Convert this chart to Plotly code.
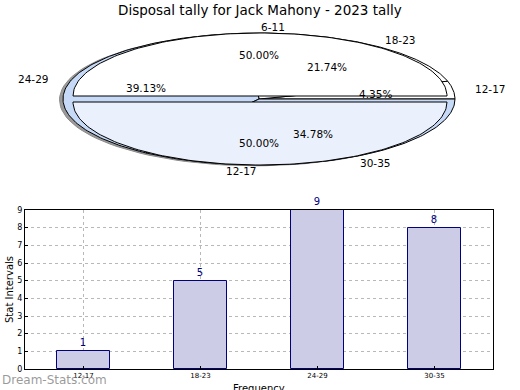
import math
import plotly.graph_objects as go

# ---- data ----
categories = ["12-17", "18-23", "24-29", "30-35"]
counts = [1, 5, 9, 8]
pie2_labels = ["6-11", "12-17"]
pie2_values = [1, 1]
pie1_colors = ["#ffffff", "#ffffff", "#c6d9f7", "#c6d9f7"]
pie2_colors = ["#ffffff", "#ebf1fc"]
title = "Disposal tally for Jack Mahony - 2023 tally"

W, H = 520, 390
fig = go.Figure()

FONT = "DejaVu Sans"


def wedge(cx, cy, a, b, t0, t1, n=120):
    xs, ys = [cx], [cy]
    for i in range(n + 1):
        t = math.radians(t0 + (t1 - t0) * i / n)
        xs.append(cx + a * math.cos(t))
        ys.append(cy - b * math.sin(t))
    xs.append(cx)
    ys.append(cy)
    return xs, ys


def add_poly(xs, ys, fill, line="black", width=1):
    fig.add_trace(go.Scatter(x=xs, y=ys, mode="lines", fill="toself",
                             fillcolor=fill, line=dict(color=line, width=width),
                             xaxis="x2", yaxis="y2", hoverinfo="skip",
                             showlegend=False))


def note(x, y, text, size=10.5, color="black", xanchor="center",
         yanchor="middle", angle=0):
    return dict(x=x, y=y, xref="x2", yref="y2", text=text, showarrow=False,
                xanchor=xanchor, yanchor=yanchor, textangle=angle,
                font=dict(family=FONT, size=size, color=color))


annotations = []

# shadow
sx, sy = wedge(255.5, 99.8, 196, 66, 0, 360)
add_poly(sx, sy, "#9a9a9a", line="#8a8a8a", width=1)

# pie 1 (four intervals)
cx1, cy1, a1, b1 = 259, 99, 196, 66
total1 = sum(counts)
start = 0.0
for lab, v, col in zip(categories, counts, pie1_colors):
    span = 360.0 * v / total1
    xs, ys = wedge(cx1, cy1, a1, b1, start, start + span)
    add_poly(xs, ys, col)
    mid = math.radians(start + span / 2)
    annotations.append(note(cx1 + 1.1 * a1 * math.cos(mid),
                            cy1 - 1.1 * b1 * math.sin(mid), lab,
                            xanchor="left" if math.cos(mid) > 0 else "right"))
    annotations.append(note(cx1 + 0.6 * a1 * math.cos(mid),
                            cy1 - 0.6 * b1 * math.sin(mid),
                            "%.2f%%" % (100.0 * v / total1)))
    start += span

# pie 2 (two halves, slightly separated)
cx2, a2, b2 = 260, 187, 63
total2 = sum(pie2_values)
start = 0.0
for i, (lab, v, col) in enumerate(zip(pie2_labels, pie2_values, pie2_colors)):
    span = 360.0 * v / total2
    cy2 = 96 if i == 0 else 102
    xs, ys = wedge(cx2, cy2, a2, b2, start, start + span)
    add_poly(xs, ys, col)
    mid = math.radians(start + span / 2)
    annotations.append(note(259 + 1.1 * a2 * math.cos(mid),
                            cy2 - 1.1 * b2 * math.sin(mid), lab,
                            xanchor="left" if i == 0 else "right"))
    annotations.append(note(259 + 0.6 * a2 * math.cos(mid),
                            cy2 - 0.6 * b2 * math.sin(mid) + (-3 if i == 0 else 3),
                            "%.2f%%" % (100.0 * v / total2)))
    start += span

# bar chart
fig.add_trace(go.Bar(x=categories, y=counts, width=0.45,
                     marker=dict(color="#ccccE6", line=dict(color="#000080", width=1)),
                     text=[str(c) for c in counts], textposition="outside",
                     textfont=dict(family=FONT, size=10, color="#000080"),
                     cliponaxis=False, xaxis="x", yaxis="y", showlegend=False))

# title, axis titles, watermark (positioned on the full-figure overlay axes)
annotations.append(note(260, 10, title, size=13.5))
annotations.append(note(9, 290, "Stat Intervals", size=10, angle=-90))
annotations.append(note(259, 388, "Frequency", size=10))
annotations.append(note(0, 380, "Dream-Stats.com", size=12,
                        color="rgba(120,120,120,0.75)", xanchor="left"))

grid = dict(showgrid=True, gridcolor="#b8b8b8", griddash="dot", gridwidth=1)

fig.update_layout(
    width=W, height=H,
    margin=dict(l=0, r=0, t=0, b=0, pad=0),
    paper_bgcolor="white", plot_bgcolor="rgba(0,0,0,0)",
    annotations=annotations,
    bargap=0,
    xaxis=dict(domain=[25 / W, 493 / W], anchor="y", automargin=False,
               range=[-0.5, 3.5], type="category",
               showline=True, linecolor="black", linewidth=1, mirror=True,
               ticks="inside", ticklen=3, tickcolor="black",
               tickfont=dict(family=FONT, size=7, color="black"), zeroline=False,
               **grid),
    yaxis=dict(domain=[(H - 369) / H, (H - 210) / H], anchor="x", automargin=False,
               range=[0, 9], dtick=1,
               showline=True, linecolor="black", linewidth=1, mirror=True,
               ticks="inside", ticklen=3, tickcolor="black",
               tickfont=dict(family=FONT, size=8, color="black"), zeroline=False,
               **grid),
    xaxis2=dict(domain=[0, 1], range=[0, W], anchor="y2", visible=False,
                automargin=False, fixedrange=True),
    yaxis2=dict(domain=[0, 1], range=[H, 0], anchor="x2", visible=False,
                automargin=False, fixedrange=True),
)

css_fix = (
    "var d=document.documentElement, b=document.body;"
    "d.style.margin='0';d.style.padding='0';d.style.overflow='hidden';"
    "b.style.margin='0';b.style.padding='0';b.style.overflow='hidden';"
)

fig.write_html("out.html", config={"displayModeBar": False},
               post_script=css_fix)
